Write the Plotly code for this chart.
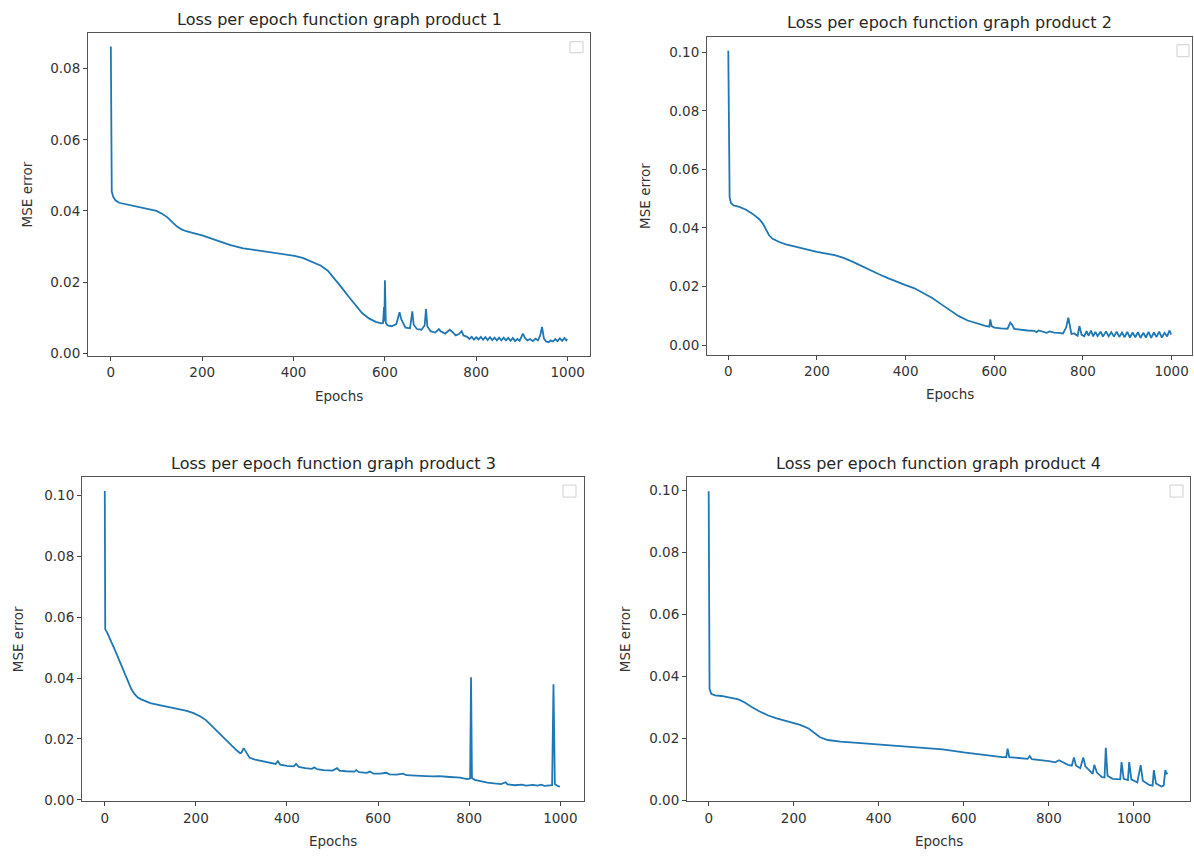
import plotly.graph_objects as go

# ---------------- data ----------------
p1_epochs = [0, 2, 5, 10, 18, 35, 52, 75, 100, 112, 124, 135, 145, 155, 165, 185, 200, 230, 262, 290,
             320, 350, 380, 402, 420, 440, 460, 475, 490, 505, 520, 535, 550, 565, 580, 592, 596, 598,
             599, 600, 602, 606, 615, 625, 632, 636, 645, 655, 660, 663, 670, 680, 687, 690, 693, 700,
             710, 718, 722, 732, 742, 746, 755, 762, 768, 772, 780,
             785, 790, 795, 800, 805, 810, 815, 820, 825, 830, 835, 840, 845, 850, 855, 860, 865, 870,
             875, 880, 885, 890, 895, 902, 907, 912, 918, 924, 930, 935, 940, 944, 948, 953, 958, 963,
             968, 973, 978, 983, 988, 993, 997, 999]
p1_loss = [0.0862, 0.0455, 0.0440, 0.0430, 0.0423, 0.0418, 0.0414, 0.0408, 0.0400, 0.0392, 0.0382,
           0.0368, 0.0356, 0.0348, 0.0343, 0.0336, 0.0331, 0.0318, 0.0304, 0.0295, 0.0289, 0.0284,
           0.0278, 0.0274, 0.0268, 0.0258, 0.0246, 0.0232, 0.0210, 0.0185, 0.0160, 0.0135, 0.0113,
           0.0098, 0.0088, 0.0084, 0.0085, 0.0130, 0.0090, 0.0205, 0.0085, 0.0078, 0.0076, 0.0082,
           0.0115, 0.0095, 0.0072, 0.0070, 0.0118, 0.0080, 0.0068, 0.0066, 0.0078, 0.0124, 0.0075,
           0.0062, 0.0058, 0.0068, 0.0062, 0.0055, 0.0066, 0.0062, 0.0050, 0.0054, 0.0062, 0.0050,
           0.0046,
           0.0040, 0.0046, 0.0038, 0.0045, 0.0039, 0.0046, 0.0038, 0.0045, 0.0037, 0.0045, 0.0037,
           0.0044, 0.0036, 0.0044, 0.0036, 0.0044, 0.0036, 0.0043, 0.0035, 0.0043, 0.0034, 0.0040,
           0.0035, 0.0055, 0.0042, 0.0036, 0.0040, 0.0034, 0.0041, 0.0036, 0.0050, 0.0074, 0.0042,
           0.0033, 0.0031, 0.0036, 0.0033, 0.0040, 0.0034, 0.0042, 0.0035, 0.0043, 0.0036, 0.0040]

p2_epochs = [0, 2, 3, 6, 12, 25, 40, 55, 70, 78, 85, 92, 100, 115, 130, 160, 200, 240, 260, 280, 300,
             320, 340, 360, 380, 400, 420, 440, 460, 480, 500, 520, 540, 560, 580, 589, 591, 594, 600,
             615, 630, 636, 640, 645, 660, 675, 690, 695, 700, 710, 718, 725, 735, 745, 755, 762, 767,
             770, 774, 780, 788, 792, 797, 803, 808, 813, 818, 823, 828, 833, 840, 845, 852, 858, 864,
             870, 876, 882, 888, 894, 900, 906, 912, 918, 924, 930, 936, 942, 948, 954, 960, 966, 972,
             978, 984, 990, 995, 999]
p2_loss = [0.1005, 0.0600, 0.0505, 0.0485, 0.0477, 0.0472, 0.0462, 0.0448, 0.0430, 0.0415, 0.0395,
           0.0375, 0.0363, 0.0352, 0.0344, 0.0332, 0.0318, 0.0307, 0.0298, 0.0285, 0.0270, 0.0256,
           0.0242, 0.0229, 0.0216, 0.0205, 0.0194, 0.0178, 0.0161, 0.0140, 0.0118, 0.0099, 0.0084,
           0.0074, 0.0066, 0.0063, 0.0088, 0.0065, 0.0060, 0.0057, 0.0056, 0.0077, 0.0070, 0.0055,
           0.0052, 0.0050, 0.0049, 0.0044, 0.0050, 0.0047, 0.0042, 0.0047, 0.0043, 0.0042, 0.0040,
           0.0060, 0.0094, 0.0070, 0.0038, 0.0040, 0.0032, 0.0065, 0.0035, 0.0030, 0.0048, 0.0032,
           0.0050, 0.0030, 0.0045, 0.0031, 0.0046, 0.0029, 0.0047, 0.0030, 0.0044, 0.0029, 0.0046,
           0.0028, 0.0043, 0.0027, 0.0045, 0.0026, 0.0043, 0.0027, 0.0044, 0.0025, 0.0042, 0.0026,
           0.0045, 0.0025, 0.0043, 0.0028, 0.0046, 0.0026, 0.0042, 0.0030, 0.0050, 0.0036]

p3_epochs = [0, 1, 5, 10, 20, 30, 40, 50, 58, 65, 72, 80, 90, 100, 120, 140, 160, 180, 195, 210, 222,
             235, 250, 265, 280, 290, 297, 300, 305, 310, 318, 330, 345, 360, 375, 380, 385, 400, 415,
             420, 426, 440, 455, 460, 466, 480, 500, 510, 515, 530, 548, 552, 558, 575, 582, 590, 605,
             618, 625, 640, 655, 662, 680, 695, 705, 720, 735, 750, 765, 780, 795, 802, 804, 806, 812,
             825, 840, 855, 870, 880, 884, 900, 915, 925, 940, 950, 958, 965, 975, 982, 985, 988, 994,
             999]
p3_loss = [0.1014, 0.0560, 0.0550, 0.0535, 0.0500, 0.0465, 0.0428, 0.0390, 0.0365, 0.0348, 0.0337,
           0.0330, 0.0323, 0.0318, 0.0311, 0.0305, 0.0299, 0.0292, 0.0285, 0.0274, 0.0262, 0.0243,
           0.0220, 0.0196, 0.0175, 0.0162, 0.0153, 0.0155, 0.0170, 0.0157, 0.0138, 0.0132, 0.0127,
           0.0122, 0.0118, 0.0127, 0.0116, 0.0112, 0.0110, 0.0118, 0.0108, 0.0104, 0.0102, 0.0107,
           0.0101, 0.0098, 0.0096, 0.0104, 0.0096, 0.0094, 0.0093, 0.0098, 0.0091, 0.0089, 0.0093,
           0.0086, 0.0086, 0.0089, 0.0084, 0.0083, 0.0086, 0.0081, 0.0080, 0.0081, 0.0078, 0.0077,
           0.0078, 0.0076, 0.0075, 0.0073, 0.0068, 0.0070, 0.0403, 0.0072, 0.0066, 0.0061, 0.0057,
           0.0054, 0.0052, 0.0058, 0.0051, 0.0048, 0.0050, 0.0047, 0.0049, 0.0047, 0.0050, 0.0046,
           0.0047, 0.0048, 0.0380, 0.0052, 0.0046, 0.0043]

p4_epochs = [0, 2, 6, 15, 30, 50, 70, 85, 100, 120, 140, 160, 190, 215, 235, 250, 262, 280, 310, 350,
             400, 450, 500, 550, 600, 650, 690, 700, 703, 707, 750, 755, 760, 800, 815, 824, 830, 845,
             854, 859, 864, 874, 881, 886, 897, 903, 907, 913, 925, 931, 934, 938, 950, 968, 971, 976,
             986, 989, 994, 1008, 1016, 1021, 1036, 1044, 1047, 1052, 1065, 1070, 1074, 1077, 1079]
p4_loss = [0.0997, 0.0360, 0.0344, 0.0339, 0.0337, 0.0332, 0.0326, 0.0316, 0.0302, 0.0287, 0.0274,
           0.0265, 0.0254, 0.0244, 0.0232, 0.0216, 0.0204, 0.0195, 0.0190, 0.0186, 0.0181, 0.0176,
           0.0171, 0.0165, 0.0155, 0.0146, 0.0140, 0.0140, 0.0167, 0.0140, 0.0134, 0.0143, 0.0133,
           0.0127, 0.0123, 0.0130, 0.0126, 0.0115, 0.0112, 0.0139, 0.0112, 0.0104, 0.0139, 0.0110,
           0.0095, 0.0086, 0.0115, 0.0090, 0.0075, 0.0074, 0.0170, 0.0080, 0.0070, 0.0068, 0.0124,
           0.0070, 0.0066, 0.0124, 0.0068, 0.0058, 0.0114, 0.0064, 0.0050, 0.0048, 0.0098, 0.0055,
           0.0045, 0.0048, 0.0098, 0.0085, 0.0090]

titles = ["Loss per epoch function graph product 1", "Loss per epoch function graph product 2",
          "Loss per epoch function graph product 3", "Loss per epoch function graph product 4"]
x_label = "Epochs"
y_label = "MSE error"
x_ticks = [0, 200, 400, 600, 800, 1000]
y_ticks = [0.0, 0.02, 0.04, 0.06, 0.08, 0.10]

# ---------------- layout (pixel boxes in the page) ----------------
W, H = 1194, 858


def px(xp):
    return xp / W


def py(yp):
    return 1 - yp / H


boxes = [  # left, right, top, bottom in page pixels
    (88, 590, 33, 359),
    (707, 1192, 37, 358),
    (82, 584, 481, 808),
    (687, 1190, 481, 808),
]
x_ranges = [[-50, 1049], [-48, 1046], [-50, 1052], [-51, 1132]]
y_ranges = [[-0.0008, 0.0901], [-0.0034, 0.1053], [-0.0005, 0.1060], [-0.0003, 0.1043]]
title_y = [20, 23, 467, 467]
xlabel_y = [399, 397, 848, 848]
ylabel_x = [27, 645, 18, 625]
legend_off = [(-20, -7, -9, -20), (-15, -3, -8, -20), (-21, -8, -8, -20), (-20, -7, -8, -20)]

series = [(p1_epochs, p1_loss), (p2_epochs, p2_loss), (p3_epochs, p3_loss), (p4_epochs, p4_loss)]

FONT = "DejaVu Sans"
fig = go.Figure()
annotations = []
shapes = []
for i, ((ex, ly), (l, r, t, b)) in enumerate(zip(series, boxes)):
    k = "" if i == 0 else str(i + 1)
    fig.add_trace(go.Scatter(x=ex, y=ly, mode="lines", xaxis="x" + k, yaxis="y" + k,
                             line=dict(color="#1f77b4", width=1.8), showlegend=False))
    axcommon = dict(showline=True, mirror=True, linecolor="#555", linewidth=1, showgrid=False,
                    zeroline=False, ticks="outside", ticklen=4, tickwidth=1, tickcolor="#444",
                    tickfont=dict(family=FONT, size=13.5, color="#333"))
    fig.update_layout(**{
        "xaxis" + k: dict(domain=[px(l), px(r)], range=x_ranges[i], anchor="y" + k,
                          tickvals=x_ticks, ticktext=[str(v) for v in x_ticks], **axcommon),
        "yaxis" + k: dict(domain=[py(b), py(t)], range=y_ranges[i], anchor="x" + k,
                          tickvals=y_ticks, tickformat=".2f", **axcommon),
    })
    cx = (l + r) / 2
    annotations.append(dict(text=titles[i], x=px(cx), y=py(title_y[i]), xref="paper", yref="paper",
                            showarrow=False, xanchor="center", yanchor="middle",
                            font=dict(family=FONT, size=16, color="#262626")))
    annotations.append(dict(text=x_label, x=px(cx), y=py(xlabel_y[i]), xref="paper", yref="paper",
                            showarrow=False, xanchor="center", yanchor="middle",
                            font=dict(family=FONT, size=13.5, color="#333")))
    annotations.append(dict(text=y_label, x=px(ylabel_x[i]), y=py((t + b) / 2), xref="paper",
                            yref="paper", showarrow=False, xanchor="center", yanchor="middle",
                            textangle=-90, font=dict(family=FONT, size=13.5, color="#333")))
    x0, x1, y0, y1 = legend_off[i]
    shapes.append(dict(type="rect", xref="x" + k + " domain", yref="y" + k + " domain",
                       xsizemode="pixel", ysizemode="pixel", xanchor=1, yanchor=1,
                       x0=x0, x1=x1, y0=y0, y1=y1,
                       line=dict(color="#d0d0d0", width=1), fillcolor="white"))

fig.update_layout(width=W, height=H, autosize=False, margin=dict(l=0, r=0, t=0, b=0),
                  paper_bgcolor="white", plot_bgcolor="white", annotations=annotations,
                  shapes=shapes, showlegend=False, hovermode=False)
fig.write_html("out.html", config={"displayModeBar": False},
               post_script="document.body.style.margin='0';document.body.style.overflow='hidden';")
